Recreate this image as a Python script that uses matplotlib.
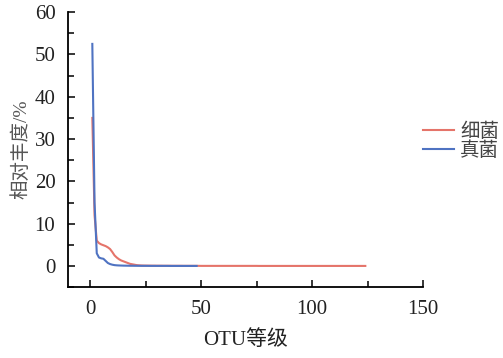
import numpy as np
import matplotlib
matplotlib.use('Agg')
import matplotlib.pyplot as plt
from matplotlib.ticker import MultipleLocator

plt.rcParams['font.family'] = ['Liberation Serif', 'Noto Sans CJK SC']

# relative abundance (%) by OTU rank
bacteria = [35.0, 12.0, 6.0, 5.4, 5.1, 4.9, 4.7, 4.4, 4.0, 3.3,
            2.5, 2.0, 1.6, 1.3, 1.1, 0.9, 0.7, 0.5, 0.4, 0.3,
            0.2, 0.15, 0.12, 0.1, 0.09, 0.08, 0.08, 0.07, 0.07, 0.06,
            0.06, 0.06, 0.05, 0.05, 0.05, 0.05, 0.04, 0.04, 0.04, 0.04,
            0.04, 0.03, 0.03, 0.03, 0.03, 0.03, 0.03, 0.03, 0.03, 0.02,
            0.02, 0.02, 0.02, 0.02, 0.02, 0.02, 0.02, 0.02, 0.02, 0.02,
            0.02, 0.02, 0.02, 0.02, 0.02, 0.02, 0.02, 0.02, 0.02, 0.02,
            0.02, 0.02, 0.02, 0.02, 0.02, 0.01, 0.01, 0.01, 0.01, 0.01,
            0.01, 0.01, 0.01, 0.01, 0.01, 0.01, 0.01, 0.01, 0.01, 0.01,
            0.01, 0.01, 0.01, 0.01, 0.01, 0.01, 0.01, 0.01, 0.01, 0.01,
            0.01, 0.01, 0.01, 0.01, 0.01, 0.01, 0.01, 0.01, 0.01, 0.01,
            0.01, 0.01, 0.01, 0.01, 0.01, 0.01, 0.01, 0.01, 0.01, 0.01,
            0.01, 0.01, 0.01, 0.01]
fungi = [52.5, 15.0, 3.0, 2.0, 1.8, 1.7, 1.2, 0.7, 0.45, 0.3,
         0.2, 0.15, 0.12, 0.1, 0.08, 0.07, 0.06, 0.05, 0.05, 0.04,
         0.04, 0.04, 0.03, 0.03, 0.03, 0.03, 0.02, 0.02, 0.02, 0.02,
         0.02, 0.02, 0.02, 0.02, 0.02, 0.01, 0.01, 0.01, 0.01, 0.01,
         0.01, 0.01, 0.01, 0.01, 0.01, 0.01, 0.01, 0.01]
labels = ['细菌', '真菌']

x_b = np.arange(1, len(bacteria) + 1)
x_f = np.arange(1, len(fungi) + 1)

fig = plt.figure(figsize=(5.03, 3.58), dpi=100)
ax = fig.add_axes([0.135, 0.198, 0.706, 0.768])

ax.plot(x_b, bacteria, color='#E5746A', lw=1.5, label=labels[0])
ax.plot(x_f, fungi, color='#4F73C2', lw=1.5, label=labels[1])

ax.set_xlim(-10, 150)
ax.set_ylim(-5, 60)
ax.xaxis.set_major_locator(MultipleLocator(50))
ax.xaxis.set_minor_locator(MultipleLocator(25))
ax.yaxis.set_major_locator(MultipleLocator(10))
ax.yaxis.set_minor_locator(MultipleLocator(5))
ax.tick_params(which='both', direction='in', labelsize=15, width=1.1,
               labelcolor='#222222')
ax.tick_params(which='major', length=5)
ax.tick_params(which='minor', length=4)
ax.tick_params(axis='x', pad=9)
ax.tick_params(axis='y', pad=9)

for s in ['top', 'right']:
    ax.spines[s].set_visible(False)
for s in ['left', 'bottom']:
    ax.spines[s].set_linewidth(1.3)

ax.set_xlabel('OTU等级', fontsize=15, color='#222222', labelpad=8)
ax.set_ylabel('相对丰度/%', fontsize=14, color='#555555', labelpad=3)

leg = fig.legend(loc='center left', bbox_to_anchor=(0.826, 0.606), frameon=False,
                 fontsize=14, handlelength=1.6, handletextpad=0.3,
                 labelspacing=0.0, borderaxespad=0.2, borderpad=0.2)
for t in leg.get_texts():
    t.set_color('#444444')

fig.savefig('out.png', dpi=100)
